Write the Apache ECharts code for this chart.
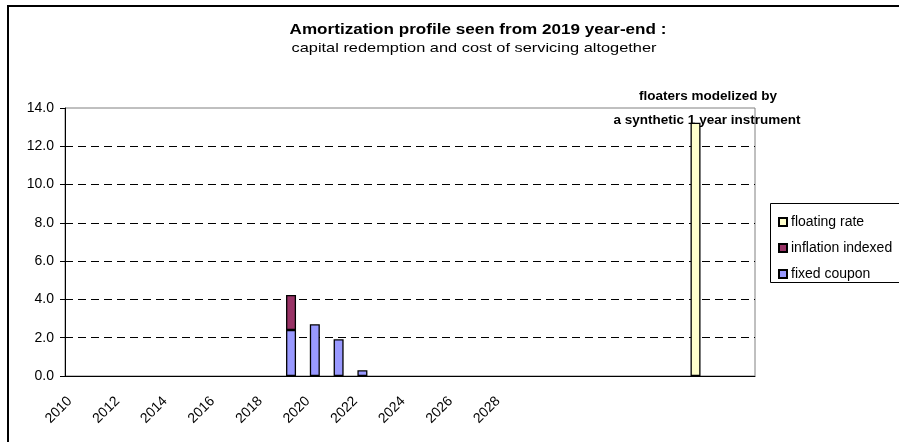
<!DOCTYPE html>
<html>
<head>
<meta charset="utf-8">
<script src="https://cdn.jsdelivr.net/npm/echarts@6/dist/echarts.min.js"></script>
<style>
html,body{margin:0;padding:0;background:#fff;}
#chart{width:899px;height:442px;}
</style>
</head>
<body>
<div id="chart"></div>
<script>
// ---- data ----
var years = ['2010','2011','2012','2013','2014','2015','2016','2017','2018','2019',
             '2020','2021','2022','2023','2024','2025','2026','2027','2028','2029',
             '2030','2031','2032','2033','2034','2035','2036','2037','2038'];
var tickLabels = ['2010','2012','2014','2016','2018','2020','2022','2024','2026','2028'];
var fixedCoupon = [null,null,null,null,null,null,null,null,null,2.40,
                   2.70,1.92,0.30,null,null,null,null,null,null,null,
                   null,null,null,null,null,null,null,null,null];
var inflationIndexed = [null,null,null,null,null,null,null,null,null,1.83,
                        null,null,null,null,null,null,null,null,null,null,
                        null,null,null,null,null,null,null,null,null];
var floatingRate = [null,null,null,null,null,null,null,null,null,null,
                    null,null,null,null,null,null,null,null,null,null,
                    null,null,null,null,null,null,13.23,null,null];
var yTicks = {min: 0, max: 14, interval: 2};
var titleText = 'Amortization profile seen from 2019 year-end :';
var subtitleText = 'capital redemption and cost of servicing altogether';
var noteLines = ['floaters modelized by', 'a synthetic 1 year instrument'];

var FONT = '"Liberation Sans", Arial, sans-serif';
var chart = echarts.init(document.getElementById('chart'), null, {renderer: 'canvas'});

function barSeries(name, data, color) {
  return {
    name: name, type: 'bar', stack: 'total', data: data, barWidth: 10,
    itemStyle: {color: color, borderColor: '#000', borderWidth: 1.3},
    emphasis: {disabled: true}
  };
}

var option = {
  animation: false,
  textStyle: {fontFamily: FONT},
  grid: {left: 65, right: 144, top: 108, bottom: 66, show: true,
         borderColor: '#808080', borderWidth: 1, backgroundColor: 'transparent'},
  legend: {
    orient: 'vertical', left: 773, top: 210, itemWidth: 8, itemHeight: 8, itemGap: 12,
    icon: 'rect', selectedMode: false,
    data: ['floating rate', 'inflation indexed', 'fixed coupon'],
    textStyle: {fontSize: 14, fontFamily: FONT, color: '#000', padding: [0,0,0,-1]}
  },
  xAxis: {
    type: 'category', data: years, boundaryGap: true,
    axisLine: {lineStyle: {color: '#000', width: 1}},
    axisTick: {interval: 0, length: 5, lineStyle: {color: '#000'}},
    axisLabel: {
      interval: 0, rotate: 45, margin: 16, fontSize: 14, color: '#000', fontFamily: FONT,
      padding: [0, 10, 0, 0],
      formatter: function (v) { return tickLabels.indexOf(v) >= 0 ? v : ''; }
    },
    splitLine: {show: false}
  },
  yAxis: {
    type: 'value', min: yTicks.min, max: yTicks.max, interval: yTicks.interval,
    axisLine: {show: true, lineStyle: {color: '#000', width: 1}},
    axisTick: {show: true, length: 5, lineStyle: {color: '#000'}},
    axisLabel: {fontSize: 14, color: '#000', margin: 11, fontFamily: FONT,
                formatter: function (v) { return v.toFixed(1); }},
    splitLine: {show: true, lineStyle: {
      color: ['#000','#000','#000','#000','#000','#000','#000','rgba(0,0,0,0)'],
      type: [8, 5], width: 1}}
  },
  series: [
    barSeries('fixed coupon', fixedCoupon, '#9999FF'),
    barSeries('inflation indexed', inflationIndexed, '#993366'),
    barSeries('floating rate', floatingRate, '#FFFFCC')
  ],
  graphic: [
    {type: 'rect', silent: true, z: -1,
     shape: {x: 8, y: 6, width: 1000, height: 1000},
     style: {fill: 'none', stroke: '#000', lineWidth: 2}},
    {type: 'rect', silent: true,
     shape: {x: 770.5, y: 203.5, width: 200, height: 79},
     style: {fill: '#fff', stroke: '#000', lineWidth: 1}, z: 0},
    {type: 'text', x: 478, y: 30, scaleX: 1.22, silent: true,
     style: {text: titleText, fontSize: 14, fontWeight: 'bold', fontFamily: FONT,
             fill: '#000', align: 'center', verticalAlign: 'middle',
             textAlign: 'center', textVerticalAlign: 'middle'}},
    {type: 'text', x: 474, y: 49, scaleX: 1.3, silent: true,
     style: {text: subtitleText, fontSize: 12.6, fontFamily: FONT,
             fill: '#000', align: 'center', verticalAlign: 'middle',
             textAlign: 'center', textVerticalAlign: 'middle'}},
    {type: 'text', x: 708, y: 96, silent: true, z: 10,
     style: {text: noteLines[0], fontSize: 13.5, fontWeight: 'bold', fontFamily: FONT,
             fill: '#000', align: 'center', verticalAlign: 'middle',
             textAlign: 'center', textVerticalAlign: 'middle'}},
    {type: 'text', x: 707, y: 120, silent: true, z: 10,
     style: {text: noteLines[1], fontSize: 13.5, fontWeight: 'bold', fontFamily: FONT,
             fill: '#000', align: 'center', verticalAlign: 'middle',
             textAlign: 'center', textVerticalAlign: 'middle'}}
  ]
};
chart.setOption(option);
</script>
</body>
</html>
